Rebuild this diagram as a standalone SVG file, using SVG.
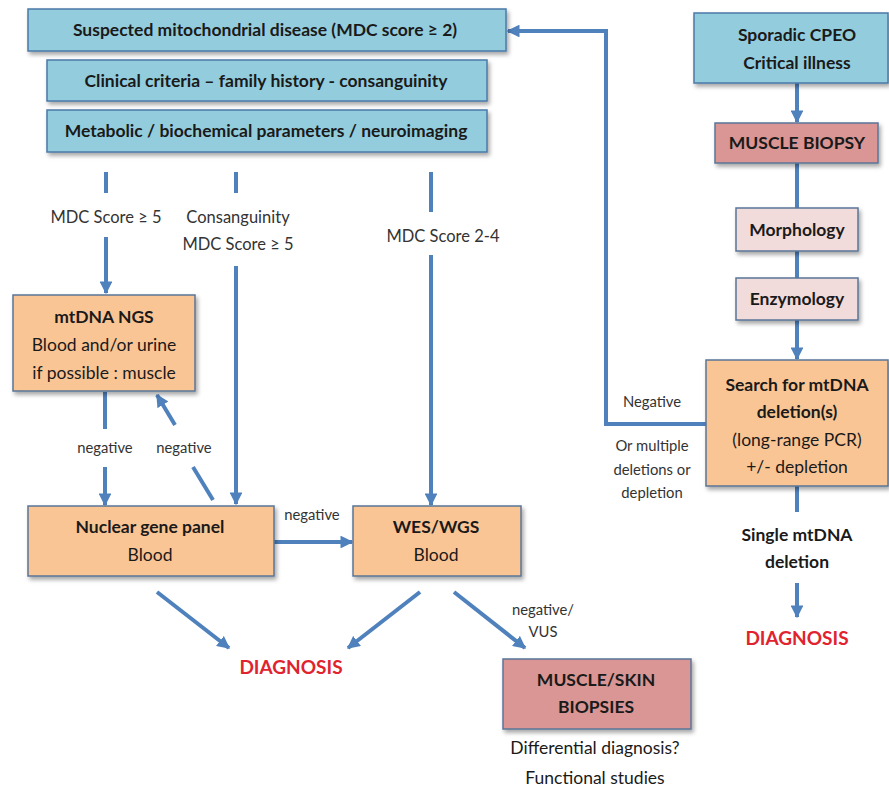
<svg xmlns="http://www.w3.org/2000/svg" width="889" height="794" viewBox="0 0 889 794">
<defs>
<filter id="sh" x="-10%" y="-10%" width="125%" height="140%">
<feDropShadow dx="2" dy="3" stdDeviation="2" flood-color="#000" flood-opacity="0.35"/>
</filter>
<marker id="ah" viewBox="0 0 10 10" refX="9" refY="5" markerWidth="3.2" markerHeight="3.2" orient="auto" markerUnits="strokeWidth">
<path d="M0,0 L10,5 L0,10 z" fill="#4f81bd"/>
</marker>
</defs>
<style>
.blue{fill:#93cddd;stroke:#4a78a8;stroke-width:1.5}
.org{fill:#fac595;stroke:#5a7596;stroke-width:1.5}
.red{fill:#d99694;stroke:#5a7596;stroke-width:1.5}
.pink{fill:#f2dcdb;stroke:#5a7596;stroke-width:1.5}
text{font-family:Lato,"Liberation Sans",sans-serif;fill:#1a1a1a;text-anchor:middle}
.b{font-weight:bold;font-size:17.5px}
.r{font-size:17.5px}
.s{font-size:14.8px;fill:#333}
.l{font-size:16.5px;fill:#333}
.dx{font-weight:bold;font-size:19px;fill:#e0232e}
.c line,.c path{stroke:#4f81bd;stroke-width:4;fill:none}
</style>
<g class="c" id="connectors">
<line x1="106" y1="172" x2="106" y2="193"/>
<line x1="106" y1="237" x2="106" y2="293" marker-end="url(#ah)"/>
<line x1="236" y1="172" x2="236" y2="193"/>
<line x1="236" y1="266" x2="236" y2="504" marker-end="url(#ah)"/>
<line x1="431" y1="172" x2="431" y2="212"/>
<line x1="431" y1="255" x2="431" y2="505" marker-end="url(#ah)"/>
<line x1="105" y1="392" x2="105" y2="429"/>
<line x1="105" y1="467" x2="105" y2="505" marker-end="url(#ah)"/>
<line x1="213" y1="500" x2="193" y2="467"/>
<line x1="175" y1="425" x2="157" y2="395" marker-end="url(#ah)"/>
<line x1="274" y1="542" x2="352" y2="542" marker-end="url(#ah)"/>
<line x1="157" y1="592" x2="229" y2="648" marker-end="url(#ah)"/>
<line x1="420" y1="592" x2="348" y2="648" marker-end="url(#ah)"/>
<line x1="454" y1="592" x2="525" y2="648" marker-end="url(#ah)"/>
<line x1="797" y1="83" x2="797" y2="122" marker-end="url(#ah)"/>
<line x1="797" y1="163" x2="797" y2="208"/>
<line x1="797" y1="251" x2="797" y2="278"/>
<line x1="797" y1="320" x2="797" y2="359" marker-end="url(#ah)"/>
<path d="M706,424 H606 V31 H508" marker-end="url(#ah)"/>
<line x1="797" y1="486" x2="797" y2="512"/>
<line x1="797" y1="583" x2="797" y2="617" marker-end="url(#ah)"/>
</g>
<g id="suspected"><rect class="blue" x="28" y="9" width="478" height="42" filter="url(#sh)"/><text class="b" x="265" y="36">Suspected mitochondrial disease (MDC score ≥ 2)</text></g>
<g id="clinical"><rect class="blue" x="47" y="60" width="440" height="41" filter="url(#sh)"/><text class="b" x="266" y="87">Clinical criteria – family history - consanguinity</text></g>
<g id="metabolic"><rect class="blue" x="47" y="110" width="440" height="42" filter="url(#sh)"/><text class="b" x="266" y="137">Metabolic / biochemical parameters / neuroimaging</text></g>
<g id="sporadic"><rect class="blue" x="694" y="13" width="194" height="70" filter="url(#sh)"/><text class="b" x="797" y="41">Sporadic CPEO</text><text class="b" x="797" y="69">Critical illness</text></g>
<g id="musclebiopsy"><rect class="red" x="715" y="123" width="163" height="40" filter="url(#sh)"/><text class="b" x="797" y="149">MUSCLE BIOPSY</text></g>
<g id="morphology"><rect class="pink" x="736" y="208" width="122" height="43" filter="url(#sh)"/><text class="b" x="797" y="236">Morphology</text></g>
<g id="enzymology"><rect class="pink" x="736" y="278" width="122" height="42" filter="url(#sh)"/><text class="b" x="797" y="305">Enzymology</text></g>
<g id="search"><rect class="org" x="706" y="360" width="182" height="126" filter="url(#sh)"/><text class="b" x="797" y="391">Search for mtDNA</text><text class="b" x="797" y="418">deletion(s)</text><text class="r" x="797" y="446">(long-range PCR)</text><text class="r" x="797" y="473">+/- depletion</text></g>
<g id="negative-right"><text class="s" x="652" y="407">Negative</text><text class="s" x="652" y="451">Or multiple</text><text class="s" x="652" y="475">deletions or</text><text class="s" x="652" y="498">depletion</text></g>
<g id="single"><text class="b" x="797" y="541">Single mtDNA</text><text class="b" x="797" y="568">deletion</text></g>
<g id="diag-right"><text class="dx" x="797" y="645">DIAGNOSIS</text></g>
<g id="labels-top"><text class="l" x="106" y="223">MDC Score ≥ 5</text><text class="l" x="238" y="223">Consanguinity</text><text class="l" x="238" y="250">MDC Score ≥ 5</text><text class="l" x="443" y="242">MDC Score 2-4</text></g>
<g id="mtdnangs"><rect class="org" x="13" y="295" width="182" height="96" filter="url(#sh)"/><text class="b" x="104" y="323">mtDNA NGS</text><text class="r" x="104" y="351">Blood and/or urine</text><text class="r" x="104" y="379">if possible : muscle</text></g>
<g id="neg-labels"><text class="s" x="105" y="453">negative</text><text class="s" x="184" y="453">negative</text><text class="s" x="312" y="520">negative</text><text class="s" x="543" y="615">negative/</text><text class="s" x="543" y="637">VUS</text></g>
<g id="nuclear"><rect class="org" x="28" y="506" width="246" height="70" filter="url(#sh)"/><text class="b" x="150" y="533">Nuclear gene panel</text><text class="r" x="150" y="561">Blood</text></g>
<g id="wes"><rect class="org" x="353" y="506" width="168" height="70" filter="url(#sh)"/><text class="b" x="436" y="533">WES/WGS</text><text class="r" x="436" y="561">Blood</text></g>
<g id="diag-left"><text class="dx" x="291" y="674">DIAGNOSIS</text></g>
<g id="muscleskin"><rect class="red" x="503" y="659" width="188" height="70" filter="url(#sh)"/><text class="b" x="596" y="686">MUSCLE/SKIN</text><text class="b" x="596" y="713">BIOPSIES</text></g>
<g id="notes"><text class="r" x="595" y="754">Differential diagnosis?</text><text class="r" x="595" y="784">Functional studies</text></g>
</svg>
